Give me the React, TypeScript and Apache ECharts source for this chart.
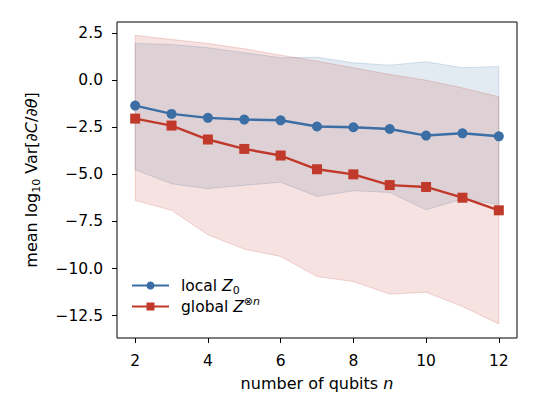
import React, { useEffect, useRef } from "react";
import * as echarts from "echarts";

// number of qubits
const N = [2, 3, 4, 5, 6, 7, 8, 9, 10, 11, 12];
// mean log10 of the gradient variance, local cost
const localMean = [-1.35, -1.79, -2.0, -2.09, -2.13, -2.46, -2.5, -2.59, -2.94, -2.82, -2.98];
const localUpper = [1.95, 1.9, 1.72, 1.46, 1.19, 1.22, 0.92, 0.8, 0.98, 0.66, 0.73];
const localLower = [-4.75, -5.5, -5.76, -5.58, -5.42, -6.17, -5.87, -5.96, -6.88, -6.31, -6.6];
// mean log10 of the gradient variance, global cost
const globalMean = [-2.04, -2.41, -3.15, -3.65, -4.0, -4.73, -5.0, -5.57, -5.67, -6.24, -6.91];
const globalUpper = [2.38, 2.16, 1.95, 1.67, 1.33, 1.01, 0.66, 0.3, 0.0, -0.41, -0.88];
const globalLower = [-6.38, -6.91, -8.21, -8.97, -9.36, -10.43, -10.69, -11.36, -11.26, -12.02, -12.94];

const xTicks = [2, 4, 6, 8, 10, 12];
const yTicks = [-12.5, -10, -7.5, -5, -2.5, 0, 2.5];

const BLUE = "#3a6ea5";
const RED = "#c0392b";
const FONT = "DejaVu Sans";

const bandSeries = (name: string, upper: number[], lower: number[], rgb: string) => ({
  type: "custom",
  name,
  silent: true,
  z: 1,
  data: [0],
  renderItem: (_params: any, api: any) => {
    const pts: number[][] = [];
    for (let i = 0; i < N.length; i++) pts.push(api.coord([N[i], upper[i]]));
    for (let i = N.length - 1; i >= 0; i--) pts.push(api.coord([N[i], lower[i]]));
    return {
      type: "polygon",
      shape: { points: pts },
      style: { fill: `rgba(${rgb},0.14)`, stroke: `rgba(${rgb},0.2)`, lineWidth: 1 },
    };
  },
});

export default function App() {
  const ref = useRef<HTMLDivElement>(null);

  useEffect(() => {
    if (!ref.current) return;
    const chart = echarts.init(ref.current, null, { renderer: "svg" });
    chart.setOption({
      animation: false,
      textStyle: { fontFamily: FONT },
      grid: {
        left: 117,
        top: 22,
        width: 400,
        height: 316,
        show: true,
        borderColor: "#000",
        borderWidth: 1,
        backgroundColor: "transparent",
      },
      xAxis: {
        type: "value",
        min: 1.5,
        max: 12.5,
        axisLine: { show: false, onZero: false },
        splitLine: { show: false },
        axisTick: { show: true, length: 5, inside: false, lineStyle: { color: "#000" }, customValues: xTicks },
        axisLabel: { color: "#000", fontSize: 15.5, margin: 15, customValues: xTicks, formatter: (v: number) => String(v) },
        name: "number of qubits {i|n}",
        nameLocation: "middle",
        nameGap: 37,
        nameTextStyle: {
          color: "#000",
          fontSize: 16,
          fontFamily: FONT,
          rich: { i: { fontStyle: "italic", fontSize: 16, fontFamily: FONT, color: "#000" } },
        },
      },
      yAxis: {
        type: "value",
        min: -13.69,
        max: 3.09,
        axisLine: { show: false, onZero: false },
        splitLine: { show: false },
        axisTick: { show: true, length: 5, inside: false, lineStyle: { color: "#000" }, customValues: yTicks },
        axisLabel: {
          color: "#000",
          fontSize: 15.5,
          margin: 14,
          customValues: yTicks,
          formatter: (v: number) => v.toFixed(1).replace("-", "\u2212"),
        },
        name: "mean log{sub|10} Var[\u2202{i|C}/\u2202{i|\u03b8}]",
        nameLocation: "middle",
        nameGap: 75,
        nameTextStyle: {
          color: "#000",
          fontSize: 16,
          fontFamily: FONT,
          lineHeight: 20,
          rich: {
            sub: { fontSize: 11, verticalAlign: "bottom", lineHeight: 22, fontFamily: FONT, color: "#000" },
            i: { fontStyle: "italic", fontSize: 16, lineHeight: 20, fontFamily: FONT, color: "#000" },
          },
        },
      },
      legend: {
        data: ["local", "global"],
        orient: "vertical",
        left: 131,
        top: 275,
        padding: 0,
        itemWidth: 37,
        itemHeight: 10,
        itemGap: 0,
        formatter: (name: string) =>
          name === "local" ? "local {i|Z}{sub|0}" : "global {i|Z}{sup|\u2297}{supi|n}",
        textStyle: {
          color: "#000",
          fontSize: 15.5,
          fontFamily: FONT,
          lineHeight: 21,
          padding: [0, 0, 0, 7],
          rich: {
            i: { fontStyle: "italic", fontSize: 15.5, lineHeight: 21, fontFamily: FONT, color: "#000" },
            sub: { fontSize: 11, verticalAlign: "bottom", lineHeight: 21, fontFamily: FONT, color: "#000" },
            sup: { fontSize: 11, verticalAlign: "top", lineHeight: 21, fontFamily: FONT, color: "#000" },
            supi: { fontSize: 11, fontStyle: "italic", verticalAlign: "top", lineHeight: 21, fontFamily: FONT, color: "#000" },
          },
        },
      },
      series: [
        bandSeries("localBand", localUpper, localLower, "58,110,165"),
        bandSeries("globalBand", globalUpper, globalLower, "192,57,43"),
        {
          type: "line",
          name: "local",
          z: 3,
          data: N.map((n, i) => [n, localMean[i]]),
          symbol: "circle",
          symbolSize: 10,
          lineStyle: { color: BLUE, width: 2.4 },
          itemStyle: { color: BLUE },
        },
        {
          type: "line",
          name: "global",
          z: 3,
          data: N.map((n, i) => [n, globalMean[i]]),
          symbol: "rect",
          symbolSize: 10,
          lineStyle: { color: RED, width: 2.4 },
          itemStyle: { color: RED },
        },
      ],
    });
    return () => chart.dispose();
  }, []);

  return <div ref={ref} style={{ width: 540, height: 420, position: "absolute", left: 0, top: 0 }} />;
}
